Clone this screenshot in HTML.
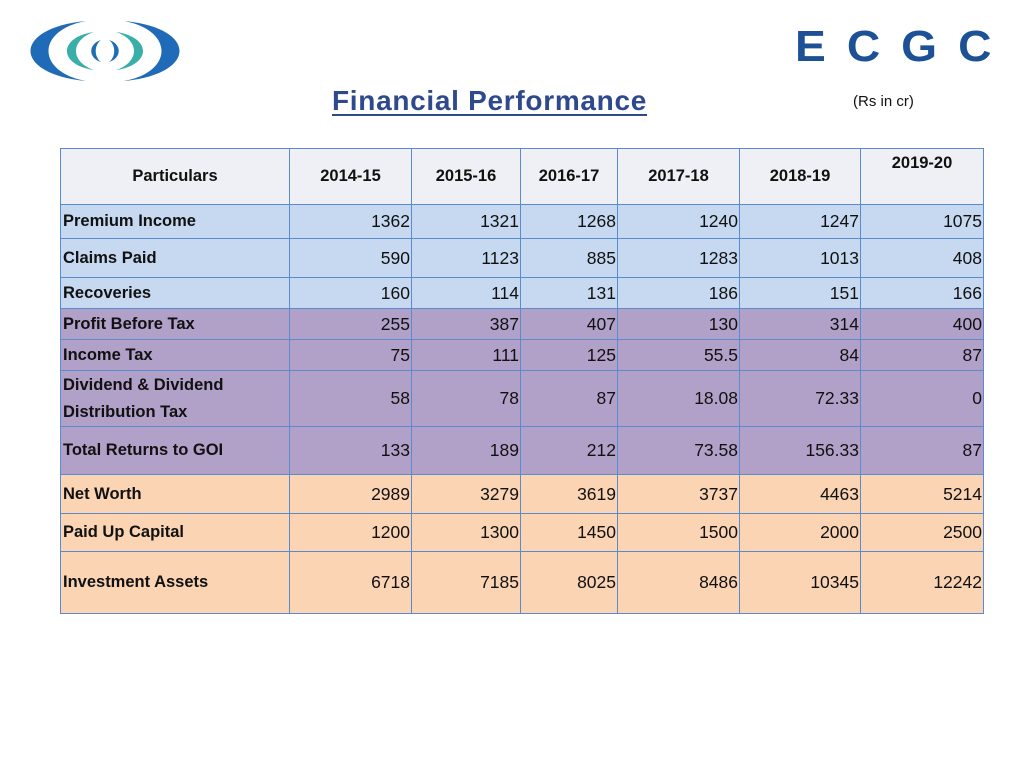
<!DOCTYPE html>
<html><head><meta charset="utf-8"><style>
body{margin:0;width:1024px;height:768px;background:#fff;position:relative;overflow:hidden;font-family:"Liberation Sans",sans-serif;}
.c{position:absolute;box-sizing:border-box;border:1px solid #5b8bcf;display:flex;align-items:center;font-size:17.5px;color:#111;}
.lab{font-weight:bold;font-size:16.5px;padding-left:2px;line-height:27px;}
.num{justify-content:flex-end;padding-right:1px;}
.hd{justify-content:center;font-weight:bold;font-size:16.5px;background:#eef0f6;}
</style></head><body>
<svg style="position:absolute;left:28px;top:16px" width="154" height="70" viewBox="0 0 154 70">
<path d="M58 5 C-16 12 -16 58 58 65 C8 56 8 14 58 5Z" fill="#1f6bb8"/>
<path d="M96 5 C170 12 170 58 96 65 C146 56 146 14 96 5Z" fill="#1f6bb8"/>
<path d="M66 16 C30 21 30 49 66 54 C42 46 42 24 66 16Z" fill="#3aaea8"/>
<path d="M88 16 C124 21 124 49 88 54 C112 46 112 24 88 16Z" fill="#3aaea8"/>
<path d="M73 24 C60 28 60 42 73 46 C66 41 66 29 73 24Z" fill="#1f6bb8"/>
<path d="M81 24 C94 28 94 42 81 46 C88 41 88 29 81 24Z" fill="#1f6bb8"/>
</svg>
<div style="position:absolute;left:795px;top:24px;font-weight:bold;font-size:44px;color:#1d5196;letter-spacing:20px;line-height:46px;transform:scaleX(1.05);transform-origin:left">ECGC</div>
<div style="position:absolute;left:332px;top:85px;font-size:28px;font-weight:bold;color:#2e4a8c;text-decoration:underline;text-underline-offset:4px;letter-spacing:0.7px">Financial Performance</div>
<div style="position:absolute;left:853px;top:93px;font-size:15px;color:#111">(Rs in cr)</div>
<div id="tbl"></div>
<script>
const years=["2014-15","2015-16","2016-17","2017-18","2018-19","2019-20"];
const rowLabels=["Premium Income","Claims Paid","Recoveries","Profit Before Tax","Income Tax","Dividend & Dividend Distribution Tax","Total Returns to GOI","Net Worth","Paid Up Capital","Investment Assets"];
const premium=["1362","1321","1268","1240","1247","1075"];
const claims=["590","1123","885","1283","1013","408"];
const recoveries=["160","114","131","186","151","166"];
const pbt=["255","387","407","130","314","400"];
const tax=["75","111","125","55.5","84","87"];
const dividend=["58","78","87","18.08","72.33","0"];
const totalGoi=["133","189","212","73.58","156.33","87"];
const netWorth=["2989","3279","3619","3737","4463","5214"];
const capital=["1200","1300","1450","1500","2000","2500"];
const invest=["6718","7185","8025","8486","10345","12242"];
const values=[premium,claims,recoveries,pbt,tax,dividend,totalGoi,netWorth,capital,invest];
const xs=[60,289,411,520,617,739,860,983];
const ys=[148,204,238,277,308,339,370,426,474,513,551,613];
const colors=["#c6d9f0","#c6d9f0","#c6d9f0","#b1a0c7","#b1a0c7","#b1a0c7","#b1a0c7","#fbd4b4","#fbd4b4","#fbd4b4"];
const T=document.getElementById('tbl');
function cell(x0,x1,y0,y1,txt,cls,bg){
 const d=document.createElement('div');d.className='c '+cls;
 d.style.left=x0+'px';d.style.top=y0+'px';d.style.width=(x1-x0+1)+'px';d.style.height=(y1-y0+1)+'px';
 if(bg)d.style.background=bg;d.textContent=txt;T.appendChild(d);return d;}
let h=cell(xs[0],xs[1],ys[0],ys[1],"Particulars","hd");


years.forEach((y,i)=>{const d=cell(xs[i+1],xs[i+2],ys[0],ys[1],y,"hd");
 if(i==5){d.style.alignItems='flex-start';d.style.paddingTop='5px';}
 
 });
rowLabels.forEach((l,r)=>{
 const d=cell(xs[0],xs[1],ys[r+1],ys[r+2],l,"lab",colors[r]);
 
 
 values[r].forEach((v,i)=>{const e=cell(xs[i+1],xs[i+2],ys[r+1],ys[r+2],v,"num",colors[r]);
 
 });
});
</script>
</body></html>
